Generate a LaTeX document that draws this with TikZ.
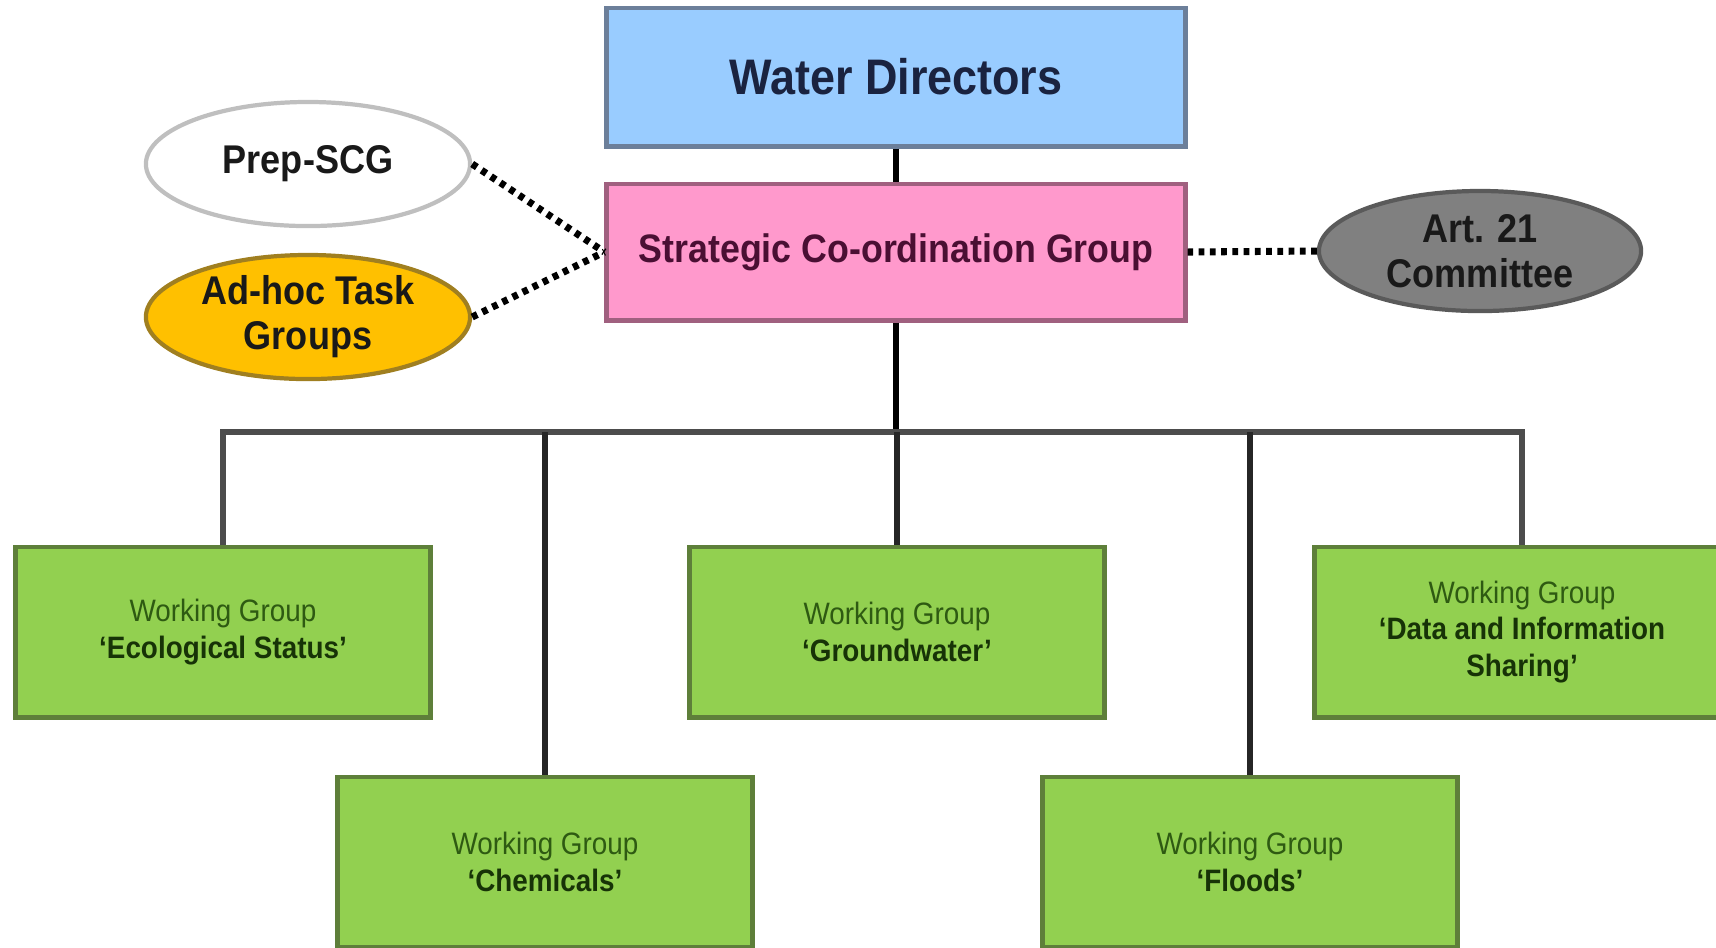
\documentclass[tikz,border=0pt]{standalone}
\usepackage{fontspec}
\setmainfont[FakeStretch=0.9]{Liberation Sans}
\usetikzlibrary{shapes.geometric}
\definecolor{wdfill}{HTML}{99CCFF}
\definecolor{wdline}{HTML}{6C7F9A}
\definecolor{wdtext}{HTML}{1A2340}
\definecolor{scgfill}{HTML}{FF99CC}
\definecolor{scgline}{HTML}{A0607F}
\definecolor{scgtext}{HTML}{4A0F33}
\definecolor{wgfill}{HTML}{92D050}
\definecolor{wgline}{HTML}{5E7F3A}
\definecolor{wgtext}{HTML}{173307}
\definecolor{wgsub}{HTML}{2E5A12}
\definecolor{adhocfill}{HTML}{FFC000}
\definecolor{adhocline}{HTML}{A07F20}
\definecolor{artfill}{HTML}{808080}
\definecolor{artline}{HTML}{5A5A5A}
\definecolor{prepline}{HTML}{BFBFBF}
\begin{document}
\begin{tikzpicture}[x=0.01cm,y=-0.01cm,
    box/.style={draw,rectangle,line width=1.4pt,align=center,inner sep=0pt},
    wgbox/.style={box,draw=wgline,fill=wgfill,text=wgtext,
      minimum width=4.14cm,minimum height=1.7cm,
      font=\fontsize{8.8}{10.4}\selectfont},
    oval/.style={ellipse,draw,line width=1.2pt,align=center,inner sep=0pt,
      minimum width=3.24cm,minimum height=1.24cm,text=black!90,
      font=\bfseries\fontsize{11.4}{12.8}\selectfont},
    tie/.style={draw=black!70,line width=1.6pt},
    dotlink/.style={line width=2pt,dash pattern=on 1.6pt off 1.6pt}]
  \useasboundingbox (0,0) rectangle (1716,947);

  \node[box,fill=wdfill,draw=wdline,text=wdtext,minimum width=5.78cm,minimum height=1.38cm,
    font=\bfseries\fontsize{14.2}{16}\selectfont] (wd) at (896,77) {Water Directors};
  \node[box,fill=scgfill,draw=scgline,text=scgtext,minimum width=5.78cm,minimum height=1.36cm,
    font=\bfseries\fontsize{11.3}{13}\selectfont] (scg) at (896,252) {Strategic Co-ordination Group};

  \node[oval,fill=white,draw=prepline] (prep) at (308,164) {Prep-SCG};
  \node[oval,fill=adhocfill,draw=adhocline] (adhoc) at (308,317) {Ad-hoc Task\\Groups};
  \node[oval,fill=artfill,draw=artline,minimum width=3.22cm,minimum height=1.2cm] (art) at (1480,251) {Art. 21\\Committee};

  \node[wgbox] (eco) at (223,632) {\textcolor{wgsub}{Working Group}\\\textbf{`Ecological Status'}};
  \node[wgbox] (gw) at (897,632) {\textcolor{wgsub}{Working Group}\\\textbf{`Groundwater'}};
  \node[wgbox] (data) at (1522,632) {\textcolor{wgsub}{Working Group}\\\textbf{`Data and Information}\\\textbf{Sharing'}};
  \node[wgbox] (chem) at (545,862) {\textcolor{wgsub}{Working Group}\\\textbf{`Chemicals'}};
  \node[wgbox] (floods) at (1250,862) {\textcolor{wgsub}{Working Group}\\\textbf{`Floods'}};

  \coordinate (bus) at (896,432);
  \draw[tie,draw=black] (wd) -- (scg);
  \draw[tie,draw=black] (scg) -- (bus);
  \draw[tie] (eco.north) |- (bus) -| (data.north);
  \foreach \g in {chem,gw,floods} {
    \draw[tie,draw=black!85] (\g.north) -- (\g.north |- bus);
  }

  \draw[dotlink] (prep.east) -- (scg.west);
  \draw[dotlink] (adhoc.east) -- (scg.west);
  \draw[dotlink] (art.west) -- (scg.east);
\end{tikzpicture}
\end{document}
